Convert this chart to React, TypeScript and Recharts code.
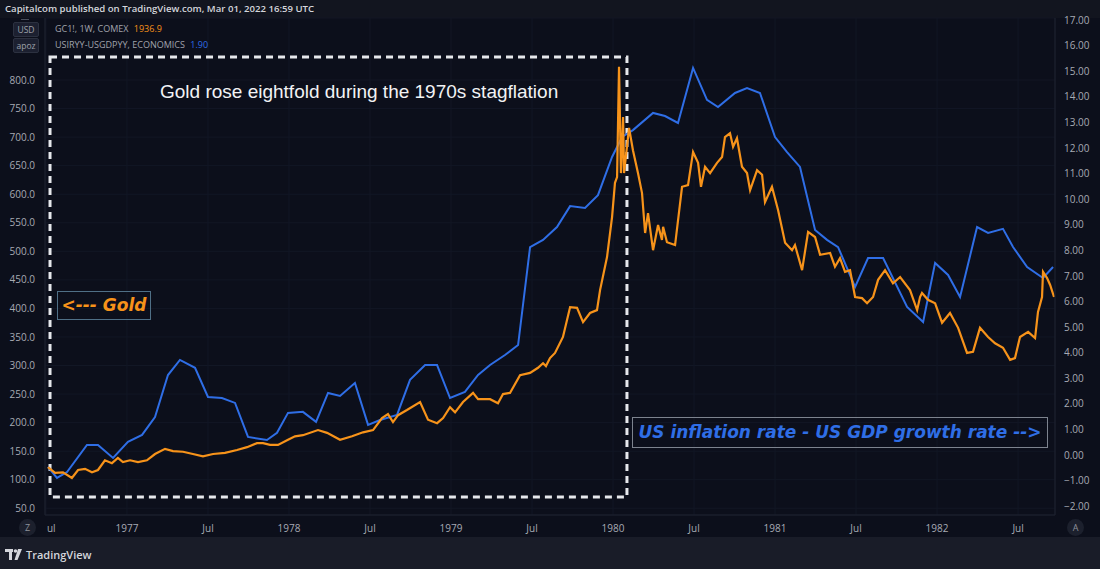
import React from "react";
import {
  LineChart,
  Line,
  XAxis,
  YAxis,
  CartesianGrid,
  ReferenceArea,
} from "recharts";

// Gold (GC1!, weekly) - time as decimal year, price in USD/oz
const goldT = [
  1976.512, 1976.556, 1976.605, 1976.66, 1976.698, 1976.741, 1976.784, 1976.821, 1976.864, 1976.907,
  1976.944, 1976.975, 1977.019, 1977.068, 1977.123, 1977.173, 1977.235, 1977.284, 1977.346, 1977.407,
  1977.469, 1977.531, 1977.605, 1977.679, 1977.741, 1977.802, 1977.84, 1977.883, 1977.932, 1977.994,
  1978.037, 1978.086, 1978.179, 1978.235, 1978.315, 1978.389, 1978.457, 1978.519, 1978.574, 1978.611,
  1978.642, 1978.673, 1978.728, 1978.809, 1978.858, 1978.914, 1978.951, 1978.994, 1979.025, 1979.074,
  1979.136, 1979.167, 1979.241, 1979.29, 1979.321, 1979.364, 1979.426, 1979.488, 1979.537, 1979.568,
  1979.586, 1979.611, 1979.642, 1979.691, 1979.735, 1979.778, 1979.815, 1979.858, 1979.901, 1979.92,
  1979.963, 1979.994, 1980.012, 1980.025, 1980.037, 1980.049, 1980.062, 1980.068, 1980.099, 1980.123,
  1980.154, 1980.179, 1980.198, 1980.216, 1980.247, 1980.278, 1980.302, 1980.309, 1980.333, 1980.383,
  1980.426, 1980.463, 1980.494, 1980.525, 1980.543, 1980.568, 1980.599, 1980.642, 1980.673, 1980.691,
  1980.722, 1980.741, 1980.765, 1980.796, 1980.827, 1980.846, 1980.889, 1980.92, 1980.938, 1980.981,
  1981.019, 1981.062, 1981.105, 1981.123, 1981.167, 1981.204, 1981.247, 1981.278, 1981.34, 1981.37,
  1981.401, 1981.432, 1981.463, 1981.494, 1981.537, 1981.568, 1981.605, 1981.636, 1981.679, 1981.728,
  1981.772, 1981.833, 1981.877, 1981.895, 1981.907, 1981.944, 1981.988, 1982.031, 1982.08, 1982.13,
  1982.185, 1982.222, 1982.265, 1982.315, 1982.358, 1982.407, 1982.451, 1982.481, 1982.512, 1982.562,
  1982.605, 1982.623, 1982.648, 1982.654, 1982.679, 1982.698, 1982.722,
];
const goldPrice = [
  122, 112, 113, 103, 117, 119, 113, 117, 134, 129,
  138, 131, 134, 131, 134, 145, 154, 150, 149, 145,
  141, 145, 147, 152, 157, 164, 164, 161, 161, 170,
  176, 178, 187, 182, 170, 176, 183, 187, 208, 215,
  201, 213, 222, 236, 205, 199, 208, 227, 218, 236,
  252, 241, 241, 234, 250, 252, 283, 287, 296, 304,
  299, 313, 322, 350, 402, 401, 376, 392, 397, 432,
  490, 560, 620, 630, 823, 637, 735, 637, 716, 677,
  637, 602, 532, 567, 502, 546, 520, 543, 516, 511,
  613, 616, 674, 655, 613, 648, 637, 655, 665, 700,
  707, 683, 698, 648, 637, 607, 642, 634, 586, 613,
  572, 515, 502, 511, 467, 534, 525, 494, 497, 473,
  488, 464, 467, 420, 418, 409, 420, 450, 467, 444,
  455, 432, 397, 420, 427, 415, 409, 375, 392, 366,
  322, 324, 366, 350, 339, 331, 310, 313, 350, 359,
  348, 394, 420, 464, 453, 441, 420,
];

// US inflation rate minus US GDP growth rate (%), right scale
const spreadT = [
  1976.512, 1976.568, 1976.63, 1976.753, 1976.821, 1976.914, 1977.006, 1977.093, 1977.173, 1977.253,
  1977.327, 1977.42, 1977.5, 1977.586, 1977.667, 1977.747, 1977.864, 1977.926, 1977.994, 1978.086,
  1978.167, 1978.241, 1978.315, 1978.407, 1978.488, 1978.562, 1978.667, 1978.747, 1978.84, 1978.914,
  1978.994, 1979.086, 1979.167, 1979.241, 1979.333, 1979.414, 1979.488, 1979.568, 1979.654, 1979.735,
  1979.827, 1979.907, 1979.994, 1980.056, 1980.123, 1980.247, 1980.321, 1980.401, 1980.494, 1980.58,
  1980.648, 1980.753, 1980.827, 1980.907, 1981.0, 1981.074, 1981.154, 1981.247, 1981.321, 1981.389,
  1981.494, 1981.574, 1981.667, 1981.815, 1981.914, 1981.988, 1982.068, 1982.142, 1982.247, 1982.315,
  1982.407, 1982.469, 1982.556, 1982.654, 1982.716,
];
const spreadRate = [
  -0.46, -0.89, -0.66, 0.4, 0.4, -0.11, 0.52, 0.79, 1.49, 3.13,
  3.72, 3.41, 2.27, 2.23, 2.04, 0.71, 0.59, 0.87, 1.65, 1.69,
  1.3, 2.43, 2.31, 2.82, 1.18, 1.37, 1.57, 2.94, 3.52, 3.52,
  2.23, 2.47, 3.13, 3.52, 3.91, 4.3, 8.13, 8.41, 8.91, 9.73,
  9.66, 10.16, 11.65, 12.43, 12.7, 13.37, 13.25, 12.98, 15.13, 13.88,
  13.6, 14.15, 14.34, 14.15, 12.43, 11.84, 11.26, 8.8, 8.41, 8.13,
  6.57, 7.7, 7.7, 5.79, 5.2, 7.51, 7.04, 6.18, 8.91, 8.68,
  8.84, 8.13, 7.35, 6.92, 7.35,
];

const xTicks = [1976.5, 1977, 1977.5, 1978, 1978.5, 1979, 1979.5, 1980, 1980.5, 1981, 1981.5, 1982, 1982.5];
const xTickLabels = ["ul", "1977", "Jul", "1978", "Jul", "1979", "Jul", "1980", "Jul", "1981", "Jul", "1982", "Jul"];
const goldTicks = [50, 100, 150, 200, 250, 300, 350, 400, 450, 500, 550, 600, 650, 700, 750, 800];
const spreadTicks = [-2, -1, 0, 1, 2, 3, 4, 5, 6, 7, 8, 9, 10, 11, 12, 13, 14, 15, 16, 17];

// merge both series on one time axis
const rows: any[] = [];
goldT.forEach((t, i) => rows.push({ t, gold: goldPrice[i] }));
spreadT.forEach((t, i) => rows.push({ t, spread: spreadRate[i] }));
rows.sort((a, b) => a.t - b.t);

const GOLD = "#f7931a";
const BLUE = "#2f6ee6";
const AXIS_TEXT = "#a7aab3";
const FONT = "'Open Sans', 'DejaVu Sans', sans-serif";

const TimeTick = ({ x, y, payload, index }: any) => {
  const first = index === 0;
  return (
    <text
      x={first ? x + 1 : x}
      y={y + 9}
      textAnchor={first ? "start" : "middle"}
      fill={AXIS_TEXT}
      fontSize={10}
      fontFamily={FONT}
    >
      {xTickLabels[xTicks.indexOf(payload.value)]}
    </text>
  );
};

const Badge = ({ top, text }: { top: number; text: string }) => (
  <div
    style={{
      position: "absolute",
      left: 13,
      top,
      width: 24,
      height: 13,
      background: "#1c2030",
      border: "1px solid #2c3140",
      borderRadius: 2,
      color: "#9ea1aa",
      fontSize: 8.5,
      lineHeight: "13px",
      textAlign: "center",
      fontFamily: FONT,
    }}
  >
    {text}
  </div>
);

export default function App() {
  return (
    <div
      style={{
        position: "absolute",
        left: 0,
        top: 0,
        width: 1100,
        height: 569,
        background: "#191c28",
        overflow: "hidden",
        fontFamily: FONT,
      }}
    >
      {/* title bar */}
      <div
        style={{
          position: "absolute",
          left: 0,
          top: 0,
          width: 1100,
          height: 18,
          background: "#12151f",
          color: "#d4d6dc",
          fontSize: 9.6,
          fontWeight: 600,
          lineHeight: "18px",
          paddingLeft: 5,
          boxSizing: "border-box",
        }}
      >
        Capitalcom published on TradingView.com, Mar 01, 2022 16:59 UTC
      </div>

      <div style={{ position: "absolute", left: 0, top: 0, width: 1100, height: 537 }}>
        <div style={{ position: "absolute", left: 0, top: 18, width: 1100, height: 519, background: "#0c0f1b" }} />
        <LineChart width={1100} height={537} data={rows} margin={{ top: 18, right: 0, left: 0, bottom: 0 }}>
          <CartesianGrid stroke="#121725" strokeWidth={1} />
          <XAxis
            dataKey="t"
            type="number"
            domain={[1976.494, 1982.728]}
            ticks={xTicks}
            interval={0}
            tick={<TimeTick />}
            tickLine={false}
            axisLine={{ stroke: "#1f2331" }}
            height={22}
            allowDataOverflow
          />
          <YAxis
            type="number"
            domain={[38.2, 908.6]}
            ticks={goldTicks}
            interval={0}
            width={45}
            tickLine={false}
            axisLine={{ stroke: "#1f2331" }}
            tickMargin={4}
            tick={{ fill: AXIS_TEXT, fontSize: 10, fontFamily: FONT }}
            tickFormatter={(v: number) => v.toFixed(1)}
            allowDataOverflow
          />
          <YAxis
            yAxisId="right"
            orientation="right"
            type="number"
            domain={[-2.34, 17.08]}
            ticks={spreadTicks}
            interval={0}
            width={45}
            tickLine={false}
            axisLine={{ stroke: "#1f2331" }}
            tickMargin={3}
            tick={{ fill: AXIS_TEXT, fontSize: 10, fontFamily: FONT }}
            tickFormatter={(v: number) => (v < 0 ? "\u2212" + Math.abs(v).toFixed(2) : v.toFixed(2))}
            allowDataOverflow
          />
          <ReferenceArea
            x1={1976.525}
            x2={1980.086}
            y1={69.7}
            y2={840.3}
            fill="none"
            stroke="#e6e8ec"
            strokeWidth={3}
            strokeDasharray="7 5"
            ifOverflow="extendDomain"
          />
          <Line
            yAxisId="right"
            dataKey="spread"
            type="linear"
            stroke={BLUE}
            strokeWidth={2}
            dot={false}
            connectNulls
            isAnimationActive={false}
          />
          <Line
            dataKey="gold"
            type="linear"
            stroke={GOLD}
            strokeWidth={2.2}
            dot={false}
            connectNulls
            isAnimationActive={false}
          />
        </LineChart>
      </div>

      {/* scale badges and legend */}
      <div style={{ position: "absolute", left: 21, top: 19, width: 8, height: 1, background: "#4a4f5c" }} />
      <Badge top={22} text="USD" />
      <Badge top={38} text="apoz" />
      <div style={{ position: "absolute", left: 55, top: 22, fontSize: 9, color: "#a0a3ac", lineHeight: "13px", whiteSpace: "nowrap" }}>
        GC1!, 1W, COMEX <span style={{ color: GOLD, marginLeft: 3 }}>1936.9</span>
      </div>
      <div style={{ position: "absolute", left: 55, top: 38, fontSize: 9, color: "#a0a3ac", lineHeight: "13px", whiteSpace: "nowrap" }}>
        USIRYY-USGDPYY, ECONOMICS <span style={{ color: BLUE, marginLeft: 3 }}>1.90</span>
      </div>

      {/* annotations */}
      <div
        style={{
          position: "absolute",
          left: 160,
          top: 81,
          color: "#f2f3f5",
          fontSize: 19,
          fontFamily: "'Liberation Sans', Arial, sans-serif",
          whiteSpace: "nowrap",
        }}
      >
        Gold rose eightfold during the 1970s stagflation
      </div>
      <div
        style={{
          position: "absolute",
          left: 57,
          top: 291,
          width: 94,
          height: 29,
          boxSizing: "border-box",
          border: "1.5px solid #4f6f86",
          color: GOLD,
          fontSize: 17,
          fontWeight: "bold",
          fontStyle: "italic",
          fontFamily: "'DejaVu Sans', sans-serif",
          lineHeight: "26px",
          textAlign: "center",
          whiteSpace: "nowrap",
        }}
      >
        &lt;--- Gold
      </div>
      <div
        style={{
          position: "absolute",
          left: 632,
          top: 417,
          width: 416,
          height: 31,
          boxSizing: "border-box",
          border: "1.5px solid #7d838e",
          color: BLUE,
          fontSize: 17,
          fontWeight: "bold",
          fontStyle: "italic",
          fontFamily: "'DejaVu Sans', sans-serif",
          lineHeight: "28px",
          textAlign: "center",
          whiteSpace: "nowrap",
        }}
      >
        US inflation rate - US GDP growth rate --&gt;
      </div>

      {/* axis corner buttons */}
      <div style={{ position: "absolute", left: 19, top: 519, width: 17, height: 17, borderRadius: 9, background: "#1c202d", color: "#8f929b", fontSize: 9, lineHeight: "17px", textAlign: "center" }}>Z</div>
      <div style={{ position: "absolute", left: 1067, top: 519, width: 17, height: 17, borderRadius: 9, background: "#1c202d", color: "#8f929b", fontSize: 9, lineHeight: "17px", textAlign: "center" }}>A</div>

      {/* footer */}
      <div style={{ position: "absolute", left: 5, top: 547, display: "flex", alignItems: "center", color: "#d4d6dc", fontSize: 11, fontWeight: 600 }}>
        <svg width={18} height={11} viewBox="0 0 18 11" style={{ marginRight: 3 }}>
          <rect x={0} y={0} width={8} height={3} fill="#d4d6dc" />
          <rect x={4} y={0} width={3} height={11} fill="#d4d6dc" />
          <circle cx={10.5} cy={2} r={1.8} fill="#d4d6dc" />
          <polygon points="13,0 17,0 12.5,11 9.5,11" fill="#d4d6dc" />
        </svg>
        TradingView
      </div>
    </div>
  );
}
